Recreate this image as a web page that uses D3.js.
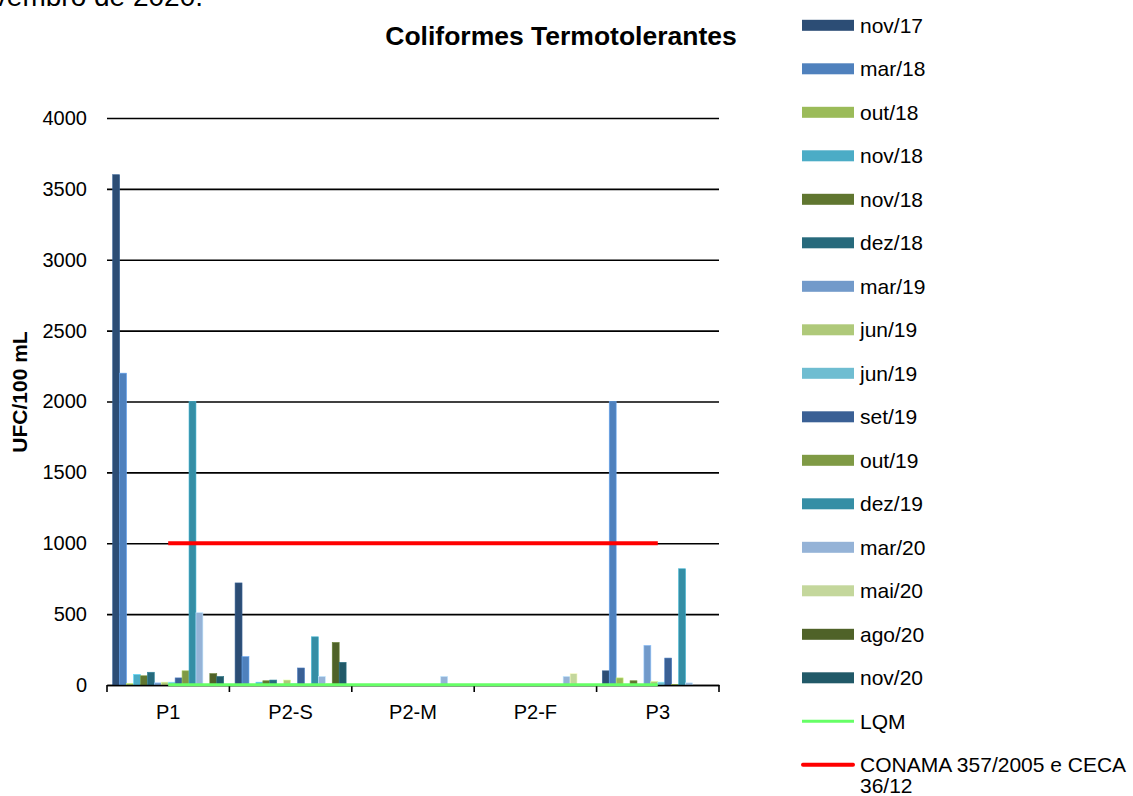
<!DOCTYPE html>
<html>
<head>
<meta charset="utf-8">
<script src="https://cdn.jsdelivr.net/npm/d3@7/dist/d3.min.js"></script>
<style>
  html, body { margin: 0; padding: 0; background: #fff; }
  svg { display: block; font-family: Arial, "Liberation Sans", sans-serif; }
</style>
</head>
<body>
<svg id="chart" width="1133" height="796"></svg>
<script>
// Pontos de amostragem
const categorias = ["P1", "P2-S", "P2-M", "P2-F", "P3"];

// Campanhas (séries de barras)
const campanhas = ["nov/17", "mar/18", "out/18", "nov/18", "nov/18", "dez/18", "mar/19", "jun/19",
                   "jun/19", "set/19", "out/19", "dez/19", "mar/20", "mai/20", "ago/20", "nov/20"];

const cores = ["#2c4d75", "#4f81bd", "#9bbb59", "#4bacc6", "#607630", "#276a7c", "#729aca", "#afc97a",
               "#6fbdd1", "#3a6095", "#7f9a45", "#358ea5", "#95b3d7", "#c4d79c", "#4f6228", "#215968"];

// Coliformes termotolerantes (UFC/100 mL) por campanha, em P1, P2-S, P2-M, P2-F, P3
const valores = [
  [3600, 720, 0, 0, 100],
  [2200, 200, 0, 0, 2000],
  [10, 0, 0, 0, 50],
  [75, 20, 0, 0, 0],
  [65, 30, 0, 0, 30],
  [90, 35, 0, 0, 0],
  [15, 0, 0, 0, 280],
  [20, 35, 0, 0, 25],
  [20, 10, 0, 0, 20],
  [50, 120, 0, 0, 190],
  [100, 0, 0, 0, 5],
  [2000, 340, 0, 0, 820],
  [510, 60, 60, 60, 15],
  [0, 10, 0, 80, 0],
  [80, 300, 0, 0, 0],
  [60, 160, 0, 0, 0]
];

// Linhas de referência
const lqm = [1.8, 1.8, 1.8, 1.8, 1.8];
const conama = [1000, 1000, 1000, 1000, 1000];

const yTicks = [0, 500, 1000, 1500, 2000, 2500, 3000, 3500, 4000];

const svg = d3.select("#chart");

// Escalas
const x0 = d3.scaleBand().domain(categorias).range([107, 719]).paddingInner(0).paddingOuter(0);
const x1 = d3.scaleBand().domain(d3.range(campanhas.length)).range([0, x0.bandwidth()]).paddingInner(0).paddingOuter(0.82);
const y = d3.scaleLinear().domain([0, 4000]).range([685, 118]);

// Final do parágrafo anterior, cortado na borda superior
svg.append("text")
  .attr("x", 203).attr("y", 6)
  .attr("text-anchor", "end")
  .attr("font-size", 28)
  .attr("fill", "#000")
  .text("novembro de 2020.");

// Título
svg.append("text")
  .attr("x", 561).attr("y", 45)
  .attr("text-anchor", "middle")
  .attr("font-size", 26.5)
  .attr("font-weight", "bold")
  .text("Coliformes Termotolerantes");

// Linhas de grade e rótulos do eixo Y
const yAxis = d3.axisLeft(y).tickValues(yTicks).tickSize(-(719 - 107)).tickPadding(20).tickFormat(d3.format("d"));
const gy = svg.append("g").attr("transform", "translate(107,0)").call(yAxis);
gy.select(".domain").remove();
gy.selectAll(".tick line").attr("stroke", "#000").attr("stroke-width", 1.6);
gy.selectAll(".tick text").attr("font-size", 20).attr("fill", "#000").attr("font-family", "Arial, 'Liberation Sans', sans-serif");

// Título do eixo Y
svg.append("text")
  .attr("transform", "translate(27,392) rotate(-90)")
  .attr("text-anchor", "middle")
  .attr("font-size", 21)
  .attr("font-weight", "bold")
  .text("UFC/100 mL");

// Barras
const groups = svg.append("g").selectAll("g")
  .data(campanhas.map((c, i) => ({ i, cor: cores[i], vals: valores[i] })))
  .join("g")
  .attr("fill", d => d.cor);

groups.selectAll("rect")
  .data(d => d.vals.map((v, k) => ({ v, k, i: d.i, cor: d.cor })))
  .join("rect")
  .attr("x", d => x0(categorias[d.k]) + x1(d.i))
  .attr("width", x1.bandwidth())
  .attr("y", d => y(d.v))
  .attr("height", d => y(0) - y(d.v))
  .attr("stroke", d => d3.color(d.cor).brighter(0.7))
  .attr("stroke-width", d => d.v > 0 ? 0.6 : 0);

// Eixo X
const xAxis = d3.axisBottom(x0).tickSize(0).tickPadding(20);
const gx = svg.append("g").attr("transform", "translate(0,685)").call(xAxis);
gx.select(".domain").attr("stroke", "#000").attr("stroke-width", 1.6);
gx.selectAll(".tick text").attr("font-size", 20).attr("fill", "#000").attr("font-family", "Arial, 'Liberation Sans', sans-serif");
const bounds = categorias.map(c => x0(c)).concat([x0.range()[1]]);
gx.selectAll(".sep").data(bounds).join("line")
  .attr("class", "sep")
  .attr("x1", d => d).attr("x2", d => d)
  .attr("y1", 0).attr("y2", 7)
  .attr("stroke", "#000").attr("stroke-width", 1.6);

// Linhas LQM e CONAMA
const line = d3.line()
  .x((d, k) => x0(categorias[k]) + x0.bandwidth() / 2)
  .y(d => y(d));

svg.append("path").datum(conama)
  .attr("d", line).attr("fill", "none")
  .attr("stroke", "#ff0000").attr("stroke-width", 4);

svg.append("path").datum(lqm)
  .attr("d", line).attr("fill", "none")
  .attr("stroke", "#66ff66").attr("stroke-width", 3);

// Legenda
const legendItems = campanhas.map((c, i) => ({ label: [c], cor: cores[i], tipo: "barra" }))
  .concat([
    { label: ["LQM"], cor: "#66ff66", tipo: "lqm" },
    { label: ["CONAMA 357/2005 e CECA", "36/12"], cor: "#ff0000", tipo: "conama" }
  ]);

const lg = svg.append("g").selectAll("g")
  .data(legendItems)
  .join("g")
  .attr("transform", (d, i) => `translate(0,${25.3 + i * 43.5})`);

lg.filter(d => d.tipo === "barra").append("rect")
  .attr("x", 802).attr("y", -5.5).attr("width", 52).attr("height", 11)
  .attr("fill", d => d.cor);

lg.filter(d => d.tipo === "lqm").append("line")
  .attr("x1", 802).attr("x2", 854).attr("y1", 0).attr("y2", 0)
  .attr("stroke", d => d.cor).attr("stroke-width", 3);

lg.filter(d => d.tipo === "conama").append("line")
  .attr("x1", 803).attr("x2", 853).attr("y1", 0).attr("y2", 0)
  .attr("stroke", d => d.cor).attr("stroke-width", 4).attr("stroke-linecap", "round");

lg.append("text")
  .attr("x", 860).attr("y", 0)
  .attr("font-size", 21)
  .attr("fill", "#000")
  .selectAll("tspan")
  .data(d => d.label)
  .join("tspan")
  .attr("x", 860)
  .attr("dy", (d, j) => j === 0 ? "0.36em" : "1.0em")
  .text(d => d);
</script>
</body>
</html>
